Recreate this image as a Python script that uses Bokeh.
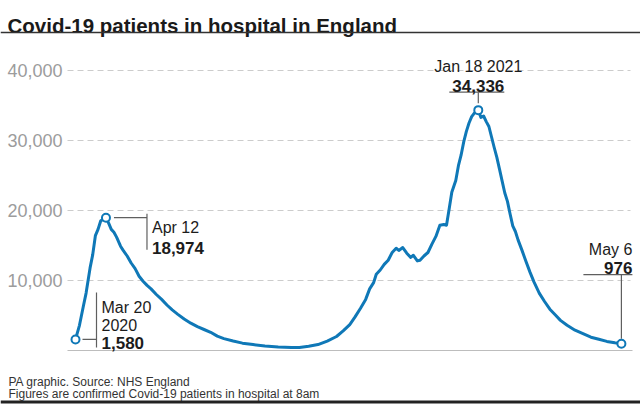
import pandas as pd
from bokeh.plotting import figure
from bokeh.models import Range1d, ColumnDataSource
from bokeh.core.properties import value
from bokeh.embed import file_html
from bokeh.resources import INLINE

# ---------------- data ----------------
dates = [
    "2020-03-20", "2020-03-23", "2020-03-26", "2020-03-28", "2020-03-31", "2020-04-02",
    "2020-04-04", "2020-04-06", "2020-04-08", "2020-04-10", "2020-04-12", "2020-04-14",
    "2020-04-16", "2020-04-18", "2020-04-20", "2020-04-23", "2020-04-25", "2020-04-28",
    "2020-05-01", "2020-05-04", "2020-05-07", "2020-05-10", "2020-05-13", "2020-05-16",
    "2020-05-20", "2020-05-24", "2020-05-28", "2020-06-01", "2020-06-05", "2020-06-10",
    "2020-06-15", "2020-06-20", "2020-06-25", "2020-06-30", "2020-07-05", "2020-07-10",
    "2020-07-17", "2020-07-24", "2020-08-01", "2020-08-10", "2020-08-20", "2020-08-30",
    "2020-09-05", "2020-09-12", "2020-09-19", "2020-09-26", "2020-10-03", "2020-10-08",
    "2020-10-13", "2020-10-17", "2020-10-21", "2020-10-25", "2020-10-28", "2020-10-31",
    "2020-11-02", "2020-11-05", "2020-11-08", "2020-11-11", "2020-11-14", "2020-11-17",
    "2020-11-19", "2020-11-22", "2020-11-25", "2020-11-28", "2020-11-30", "2020-12-03",
    "2020-12-05", "2020-12-08", "2020-12-11", "2020-12-14", "2020-12-17", "2020-12-20",
    "2020-12-23", "2020-12-25", "2020-12-27", "2020-12-29", "2021-01-01", "2021-01-03",
    "2021-01-05", "2021-01-07", "2021-01-09", "2021-01-11", "2021-01-13", "2021-01-15",
    "2021-01-17", "2021-01-18", "2021-01-20", "2021-01-22", "2021-01-24", "2021-01-26",
    "2021-01-28", "2021-01-30", "2021-02-01", "2021-02-03", "2021-02-05", "2021-02-07",
    "2021-02-09", "2021-02-11", "2021-02-13", "2021-02-15", "2021-02-17", "2021-02-20",
    "2021-02-23", "2021-02-26", "2021-03-01", "2021-03-05", "2021-03-09", "2021-03-13",
    "2021-03-17", "2021-03-21", "2021-03-26", "2021-04-01", "2021-04-07", "2021-04-13",
    "2021-04-19", "2021-04-25", "2021-05-01", "2021-05-06",
]
patients = [
    1580, 3600, 6400, 8200, 11800, 13700,
    16400, 17300, 18500, 18800, 18974, 18200,
    17300, 16900, 16200, 14900, 14300, 13500,
    12500, 11700, 10600, 9900, 9300, 8800,
    8000, 7300, 6500, 5800, 5200, 4500,
    3900, 3400, 3000, 2600, 2050, 1700,
    1350, 1050, 850, 650, 500, 430,
    440, 620, 850, 1350, 2000, 2800,
    3700, 4800, 6000, 7300, 8800, 9700,
    10900, 11500, 12300, 12900, 14000, 14600,
    14300, 14700, 13900, 13300, 13600, 12800,
    12900, 13500, 14000, 15200, 16300, 17900,
    18000, 17900, 20200, 22600, 24300, 26400,
    27900, 29800, 31300, 32500, 33400, 33900,
    34100, 34336, 33300, 33500, 32700, 32000,
    30500, 29000, 27600, 25900, 24200, 22500,
    21300, 19500, 17800, 17000, 15800, 14300,
    12700, 11200, 9800, 8200, 7000, 5900,
    5100, 4300, 3600, 2900, 2400, 1900,
    1600, 1300, 1100, 976,
]
y_ticks = [10000, 20000, 30000, 40000]
y_tick_labels = ["10,000", "20,000", "30,000", "40,000"]

callout_dates = ["2020-03-20", "2020-04-12", "2021-01-18", "2021-05-06"]
callout_values = [1580, 18974, 34336, 976]
callout_labels = [["Mar 20", "2020"], ["Apr 12"], ["Jan 18 2021"], ["May 6"]]

title_text = "Covid-19 patients in hospital in England"
footer_lines = ["PA graphic. Source: NHS England",
                "Figures are confirmed Covid-19 patients in hospital at 8am"]

# ---------------- geometry ----------------
W, H = 640, 405
X_ORIGIN = 75.0     # canvas px of first date
DAY_PX = 1.325      # px per day
Y_ZERO = 350.0      # canvas px of value 0
VAL_PX = 0.007      # px per patient

t = pd.to_datetime(dates)
t0 = t[0]


def xdata(px):
    return t0 + pd.Timedelta(days=(px - X_ORIGIN) / DAY_PX)


def ydata(py):
    return (Y_ZERO - py) / VAL_PX


def xpix(d):
    return X_ORIGIN + (pd.Timestamp(d) - t0) / pd.Timedelta(days=1) * DAY_PX


def ypix(v):
    return Y_ZERO - v * VAL_PX


BLUE = "#0f78b7"
LEAD = "#5f5f5f"
DARK = "#1c1c1c"
FONT = value("Liberation Sans")

p = figure(width=W, height=H, output_backend="svg", toolbar_location=None,
           x_range=Range1d(xdata(0), xdata(W)), y_range=Range1d(ydata(H), ydata(0)),
           x_axis_location=None, y_axis_location=None, min_border=0,
           outline_line_color=None, background_fill_color="white",
           border_fill_color="white")
p.xgrid.visible = False
p.ygrid.visible = False


def seg(x0, y0, x1, y1, color, width, dash="solid"):
    p.segment(x0=[xdata(x0)], y0=[ydata(y0)], x1=[xdata(x1)], y1=[ydata(y1)],
              line_color=color, line_width=width, line_dash=dash)


def txt(x, y, s, size, bold=False, align="left", color=DARK, baseline="alphabetic"):
    p.text(x=[xdata(x)], y=[ydata(y)], text=[s], text_font=FONT,
           text_font_size=f"{size}px", text_font_style="bold" if bold else "normal",
           text_align=align, text_baseline=baseline, text_color=color)


# title and rules
txt(7, 25, title_text, 20.5, bold=True, color="#1a1a1a")
seg(0, 32, W, 32, "#333333", 1.5)

# grid lines, baseline, tick labels
n = len(y_ticks)
p.segment(x0=[xdata(67)] * n, x1=[xdata(630)] * n, y0=y_ticks, y1=y_ticks,
          line_color="#cccccc", line_width=1, line_dash="6 4")
p.segment(x0=[xdata(67)], x1=[xdata(632)], y0=[0], y1=[0],
          line_color="#bdbdbd", line_width=1)
p.text(x=[xdata(62)] * n, y=y_ticks, text=y_tick_labels, text_font=FONT,
       text_font_size="18px", text_align="right", text_baseline="middle",
       text_color="#9c9c9c")

# data line
src = ColumnDataSource(dict(date=t, patients=patients))
p.line("date", "patients", source=src, line_color=BLUE, line_width=3,
       line_join="round", line_cap="round")

# callouts
cx_ = [xpix(d) for d in callout_dates]
cy_ = [ypix(v) for v in callout_values]
nums = [f"{v:,}" for v in callout_values]

# Mar 20
cx, cy = cx_[0], cy_[0]
seg(cx + 7, cy, cx + 21, cy, LEAD, 1.2)
seg(cx + 21, cy - 47, cx + 21, cy + 8, LEAD, 1.2)
txt(cx + 26, cy - 32, callout_labels[0][0], 16)
txt(cx + 26, cy - 14, callout_labels[0][1], 16)
txt(cx + 26, cy + 4, nums[0], 17, bold=True)

# Apr 12
cx, cy = cx_[1], cy_[1]
seg(cx + 8, cy, cx + 41, cy, LEAD, 1.2)
seg(cx + 41, cy - 4, cx + 41, cy + 32, LEAD, 1.2)
txt(cx + 46, cy + 10, callout_labels[1][0], 16)
txt(cx + 46, cy + 30, nums[1], 17, bold=True)

# Jan 18
cx, cy = cx_[2], cy_[2]
seg(cx, cy - 7, cx, cy - 18, LEAD, 1.2)
seg(cx - 29, cy - 18, cx + 26, cy - 18, LEAD, 1.2)
txt(cx, cy - 24.5, nums[2], 17, bold=True, align="center")
txt(cx, cy - 44, callout_labels[2][0], 16, align="center")

# May 6
cx, cy = cx_[3], cy_[3]
seg(cx, cy - 5, cx, cy - 69, LEAD, 1.2)
seg(cx - 38, cy - 69, cx + 11, cy - 69, LEAD, 1.2)
txt(cx + 11, cy - 76, nums[3], 17, bold=True, align="right")
txt(cx + 11, cy - 94, callout_labels[3][0], 16, align="right")

p.scatter(x=pd.to_datetime(callout_dates), y=callout_values, size=8,
          fill_color="white", line_color=BLUE, line_width=2)

# footer
txt(8, 381.7, footer_lines[0], 12, color="#333333")
txt(8, 393, footer_lines[1], 12, color="#333333")
seg(0, 401.5, W, 401.5, "#222222", 3)

open("out.html", "w").write(file_html(p, INLINE))
